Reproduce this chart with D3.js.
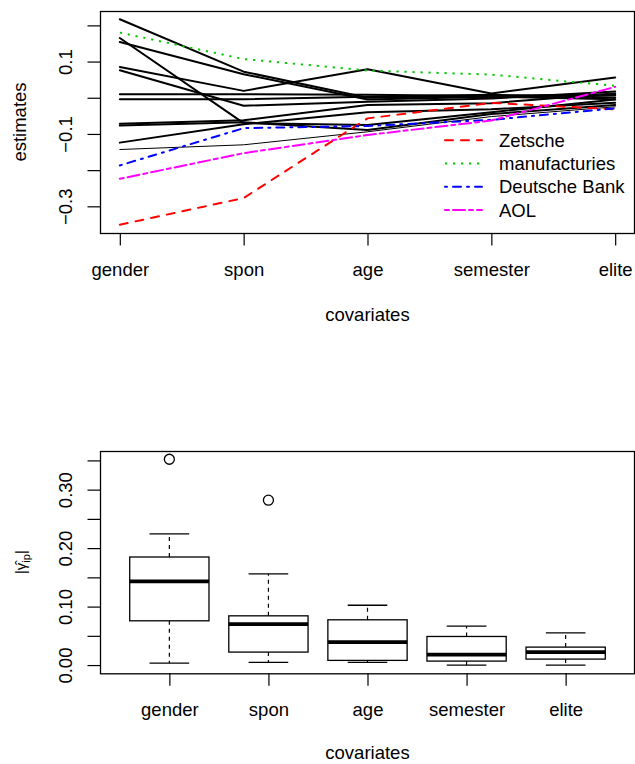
<!DOCTYPE html>
<html><head><meta charset="utf-8">
<script src="https://cdn.jsdelivr.net/npm/d3@7"></script>
<style>
body{margin:0;background:#fff}
svg{display:block}
text{font-family:"Liberation Sans",Arial,Helvetica,sans-serif;font-size:18.5px;fill:#000}
</style>
</head><body>
<svg id="c" width="635" height="764"></svg>
<script>
// ---------- data ----------
const covariates = ["gender", "spon", "age", "semester", "elite"];

// black (unnamed) estimate profiles: values at gender, spon, age, semester, elite
const black1  = [0.217, 0.072, 0.000, 0.005, 0.010];
const black2  = [0.165, -0.070, -0.075, -0.040, -0.005];
const black3  = [0.154, 0.065, -0.005, 0.003, -0.004];
const black4  = [0.085, 0.019, 0.079, 0.012, 0.056];
const black5  = [0.076, -0.022, -0.011, -0.002, 0.017];
const black6  = [0.010, 0.010, 0.008, 0.005, 0.007];
const black7  = [-0.004, -0.004, 0.003, 0.008, 0.001];
const black8  = [-0.072, -0.062, -0.020, -0.015, 0.012];
const black9  = [-0.077, -0.068, -0.089, -0.045, -0.020];
const black10 = [-0.124, -0.073, -0.040, -0.032, -0.014];
const black11 = [-0.143, -0.130, -0.094, -0.052, -0.025];
const blackSeries = [black1, black2, black3, black4, black5, black6, black7, black8, black9, black10, black11];
const blackWidths = [2, 2, 2, 2, 2, 2, 2, 2, 2, 2, 1];

// highlighted profiles
const zetsche       = [-0.351, -0.277, -0.057, -0.014, -0.032];
const manufacturies = [0.180, 0.107, 0.075, 0.064, 0.033];
const deutscheBank  = [-0.187, -0.084, -0.078, -0.061, -0.029];
const aol           = [-0.224, -0.153, -0.103, -0.063, 0.030];
const namedNames  = ["Zetsche", "manufacturies", "Deutsche Bank", "AOL"];
const namedSeries = [zetsche, manufacturies, deutscheBank, aol];
const namedColors = ["#FF0000", "#00CD00", "#0000FF", "#FF00FF"];
const namedDash   = ["8,8", "2.2,5.8", "2,6,8,6", "4,4,12,4"];
const namedCaps   = ["round", "butt", "round", "round"];

const topTicks = [-0.3, -0.2, -0.1, 0.0, 0.1, 0.2];
const topTickLabels = ["\u22120.3", "", "\u22120.1", "", "0.1", ""];

// boxplot of |gamma_ip| per covariate
const whiskLow  = [0.0034, 0.0046, 0.0046, 0.0000, 0.0000];
const boxQ1     = [0.0757, 0.0222, 0.0080, 0.0068, 0.0102];
const boxMedian = [0.1432, 0.0699, 0.0392, 0.0177, 0.0222];
const boxQ3     = [0.1848, 0.0842, 0.0774, 0.0489, 0.0307];
const whiskHigh = [0.2245, 0.1558, 0.1023, 0.0665, 0.0552];
const outliers  = [[0.352], [0.282], [], [], []];

const bottomTicks = [0.00, 0.05, 0.10, 0.15, 0.20, 0.25, 0.30, 0.35];
const bottomTickLabels = ["0.00", "", "0.10", "", "0.20", "", "0.30", ""];

// ---------- layout ----------
const svg = d3.select("#c");
const L = 100, R = 635;
const top1 = 11, bot1 = 233;
const top2 = 451, bot2 = 673.3;
const TICK = 12.5;

function ext(lo, hi) { const p = (hi - lo) * 0.04; return [lo - p, hi + p]; }

// ---------- top panel ----------
const allTop = blackSeries.concat(namedSeries).flat();
const xTop = d3.scaleLinear().domain(ext(1, 5)).range([L, R]);
const yTop = d3.scaleLinear().domain(ext(d3.min(allTop), d3.max(allTop))).range([bot1, top1]);

const line = d3.line().x((d, i) => xTop(i + 1)).y(d => yTop(d));

const gTop = svg.append("g");
blackSeries.forEach((s, k) => {
  gTop.append("path").attr("d", line(s)).attr("fill", "none")
    .attr("stroke", "#000").attr("stroke-width", blackWidths[k])
    .attr("stroke-linejoin", "round").attr("stroke-linecap", "round");
});
namedSeries.forEach((s, k) => {
  gTop.append("path").attr("d", line(s)).attr("fill", "none")
    .attr("stroke", namedColors[k]).attr("stroke-width", 2)
    .attr("stroke-dasharray", namedDash[k])
    .attr("stroke-linecap", namedCaps[k]).attr("stroke-linejoin", "round");
});

// frame
svg.append("rect").attr("x", L + 0.5).attr("y", top1 + 0.5)
  .attr("width", R - L - 1).attr("height", bot1 - top1)
  .attr("fill", "none").attr("stroke", "#000").attr("stroke-width", 1.3);

// axes
const axBottom1 = d3.axisBottom(xTop).tickValues([1, 2, 3, 4, 5])
  .tickSize(TICK).tickFormat((d, i) => covariates[i]);
const gx1 = svg.append("g").attr("transform", `translate(0,${bot1})`).call(axBottom1);
gx1.select(".domain").remove();
gx1.selectAll("line").attr("stroke-width", 1.2);
gx1.selectAll("text").attr("y", 43).attr("dy", null);
gx1.attr("font-size", null).attr("font-family", null);

const axLeft1 = d3.axisLeft(yTop).tickValues(topTicks).tickSize(TICK)
  .tickFormat((d, i) => topTickLabels[i]);
const gy1 = svg.append("g").attr("transform", `translate(${L},0)`).call(axLeft1);
gy1.select(".domain").remove();
gy1.selectAll("line").attr("stroke-width", 1.2);
gy1.attr("font-size", null).attr("font-family", null);
gy1.selectAll("text").attr("transform", "rotate(-90)")
  .attr("x", 0).attr("y", -28).attr("dy", null).attr("text-anchor", "middle");

svg.append("text").attr("x", (L + R) / 2).attr("y", 321)
  .attr("text-anchor", "middle").text("covariates");
svg.append("text").attr("transform", `translate(25.5,${(top1 + bot1) / 2}) rotate(-90)`)
  .attr("text-anchor", "middle").text("estimates");

// legend
const legX0 = 445, legX1 = 482, legTX = 499, legY0 = 140.3, legDY = 23.2;
namedNames.forEach((n, k) => {
  const yy = legY0 + k * legDY;
  svg.append("line").attr("x1", legX0).attr("x2", legX1).attr("y1", yy).attr("y2", yy)
    .attr("stroke", namedColors[k]).attr("stroke-width", 2)
    .attr("stroke-dasharray", namedDash[k]).attr("stroke-linecap", namedCaps[k]);
  svg.append("text").attr("x", legTX).attr("y", yy + 6.6).text(n);
});

// ---------- bottom panel ----------
const xBot = d3.scaleLinear().domain(ext(0.5, 5.5)).range([L, R]);
const allBot = whiskLow.concat(whiskHigh, outliers.flat());
const yBot = d3.scaleLinear().domain(ext(d3.min(allBot), d3.max(allBot))).range([bot2, top2]);
const unit = xBot(2) - xBot(1);
const bw = unit * 0.8, sw = bw * 0.5;

const gB = svg.append("g");
covariates.forEach((c, i) => {
  const cx = xBot(i + 1);
  // whiskers
  gB.append("line").attr("x1", cx).attr("x2", cx).attr("y1", yBot(boxQ3[i])).attr("y2", yBot(whiskHigh[i]))
    .attr("stroke", "#000").attr("stroke-width", 1.2).attr("stroke-dasharray", "4,4");
  gB.append("line").attr("x1", cx).attr("x2", cx).attr("y1", yBot(boxQ1[i])).attr("y2", yBot(whiskLow[i]))
    .attr("stroke", "#000").attr("stroke-width", 1.2).attr("stroke-dasharray", "4,4");
  // staples
  [whiskHigh[i], whiskLow[i]].forEach(v => {
    gB.append("line").attr("x1", cx - sw / 2).attr("x2", cx + sw / 2).attr("y1", yBot(v)).attr("y2", yBot(v))
      .attr("stroke", "#000").attr("stroke-width", 1.3);
  });
  // box
  gB.append("rect").attr("x", cx - bw / 2).attr("y", yBot(boxQ3[i]))
    .attr("width", bw).attr("height", yBot(boxQ1[i]) - yBot(boxQ3[i]))
    .attr("fill", "#fff").attr("stroke", "#000").attr("stroke-width", 1.3);
  // median
  gB.append("line").attr("x1", cx - bw / 2).attr("x2", cx + bw / 2)
    .attr("y1", yBot(boxMedian[i])).attr("y2", yBot(boxMedian[i]))
    .attr("stroke", "#000").attr("stroke-width", 3.8);
  // outliers
  outliers[i].forEach(v => {
    gB.append("circle").attr("cx", cx).attr("cy", yBot(v)).attr("r", 5)
      .attr("fill", "none").attr("stroke", "#000").attr("stroke-width", 1.3);
  });
});

svg.append("rect").attr("x", L + 0.5).attr("y", top2 + 0.5)
  .attr("width", R - L - 1).attr("height", bot2 - top2)
  .attr("fill", "none").attr("stroke", "#000").attr("stroke-width", 1.3);

const axBottom2 = d3.axisBottom(xBot).tickValues([1, 2, 3, 4, 5])
  .tickSize(TICK).tickFormat((d, i) => covariates[i]);
const gx2 = svg.append("g").attr("transform", `translate(0,${bot2})`).call(axBottom2);
gx2.select(".domain").remove();
gx2.selectAll("line").attr("stroke-width", 1.2);
gx2.attr("font-size", null).attr("font-family", null);
gx2.selectAll("text").attr("y", 43).attr("dy", null);

const axLeft2 = d3.axisLeft(yBot).tickValues(bottomTicks).tickSize(TICK)
  .tickFormat((d, i) => bottomTickLabels[i]);
const gy2 = svg.append("g").attr("transform", `translate(${L},0)`).call(axLeft2);
gy2.select(".domain").remove();
gy2.selectAll("line").attr("stroke-width", 1.2);
gy2.attr("font-size", null).attr("font-family", null);
gy2.selectAll("text").attr("transform", "rotate(-90)")
  .attr("x", 0).attr("y", -28).attr("dy", null).attr("text-anchor", "middle");

svg.append("text").attr("x", (L + R) / 2).attr("y", 759)
  .attr("text-anchor", "middle").text("covariates");

// y label |γ̂_ip|
const yl = svg.append("text").attr("transform", `translate(26,${(top2 + bot2) / 2}) rotate(-90)`)
  .attr("text-anchor", "middle").style("font-size", "15px");
yl.append("tspan").text("|\u03B3\u0302");
yl.append("tspan").attr("dy", 4).style("font-size", "11px").text("ip");
yl.append("tspan").attr("dy", -4).text("|");
</script>
</body></html>
